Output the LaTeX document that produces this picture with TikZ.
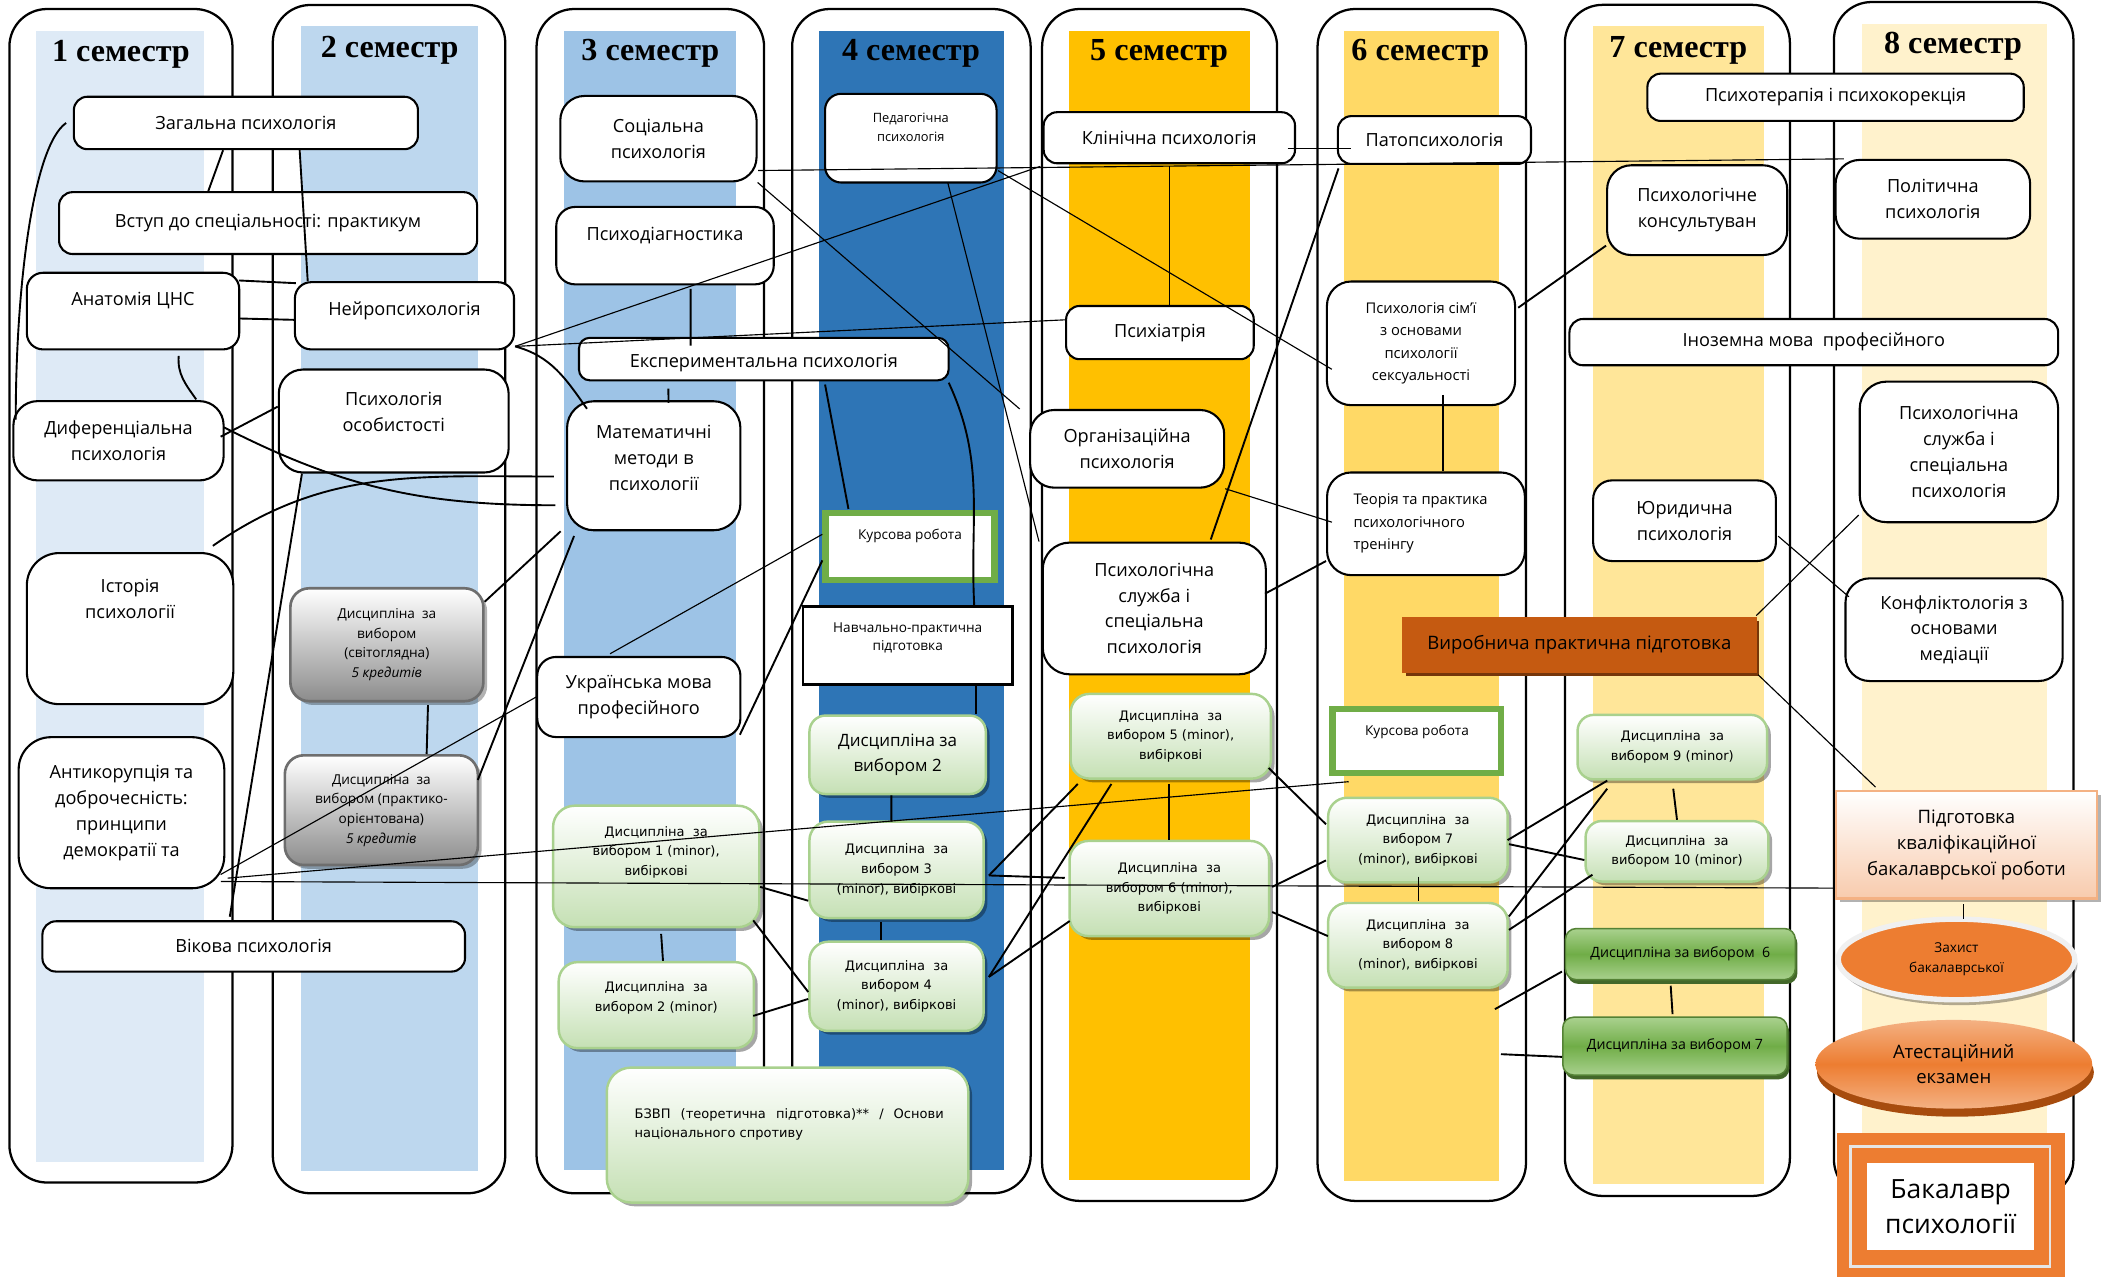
\documentclass[tikz,border=0pt]{standalone}
\usepackage{fontspec}
\setmainfont{Open Sans}
\newfontfamily\semfont{Liberation Serif}
\newfontfamily\minorfont{DejaVu Sans}
\usepackage{tikz}
\usetikzlibrary{shapes.geometric,shadows}
\usepackage{xcolor}
\definecolor{barA}{HTML}{DEEAF6}
\definecolor{barB}{HTML}{BDD7EE}
\definecolor{barC}{HTML}{9DC3E6}
\definecolor{barD}{HTML}{2E75B6}
\definecolor{barE}{HTML}{FFC000}
\definecolor{barF}{HTML}{FFD966}
\definecolor{barG}{HTML}{FFE699}
\definecolor{barH}{HTML}{FFF2CC}
\definecolor{minorfill}{HTML}{C5E0B4}
\definecolor{minordraw}{HTML}{A9D18E}
\definecolor{greydark}{HTML}{8C8C8C}
\definecolor{greyedge}{HTML}{6E6E6E}
\definecolor{grnmid}{HTML}{70AD47}
\definecolor{grnlight}{HTML}{A9D18E}
\definecolor{grnedge}{HTML}{548235}
\definecolor{orgdark}{HTML}{C55A11}
\definecolor{orgmid}{HTML}{ED7D31}
\definecolor{orglight}{HTML}{F4B183}
\definecolor{peach}{HTML}{F8CBAD}

\begin{document}
\begin{tikzpicture}[x=0.025cm,y=-0.025cm]
  \tikzstyle{sem frame}=[draw,line width=1.2pt,rounded corners=7mm,fill=white]
  \tikzstyle{sem head}=[anchor=base,inner sep=0pt,font=\semfont\bfseries\fontsize{17}{20}\selectfont]
  \tikzset{
box/.style={draw,line width=1.1pt,rounded corners=2.5mm,fill=white,align=center,inner sep=1pt,font=\fontsize{9.6}{13.7}\selectfont},
round box/.style={box,rounded corners=4.5mm},
small/.style={font=\fontsize{7.2}{10.4}\selectfont},
minor/.style={font=\minorfont\fontsize{6.9}{10.4}\selectfont},
txt/.style={align=center,inner sep=0pt,font=\fontsize{9.6}{13.7}\selectfont},
minor box/.style={box,minor,draw=minordraw,line width=1.3pt,top color=white,bottom color=minorfill,drop shadow={shadow xshift=0.7mm,shadow yshift=-0.7mm,fill=black,opacity=0.35}},
grey box/.style={box,small,rounded corners=3.5mm,draw=greyedge,line width=1.4pt,top color=white,bottom color=greydark,drop shadow={shadow xshift=0.7mm,shadow yshift=-0.7mm,fill=black,opacity=0.3}},
choice box/.style={box,rounded corners=2mm,draw=grnedge,line width=0.8pt,top color=grnlight,bottom color=grnlight,middle color=grnmid,font=\fontsize{7.5}{9}\selectfont,drop shadow={shadow xshift=0.4mm,shadow yshift=-0.8mm,fill=grnedge!80!black,opacity=1}},
course box/.style={draw=grnmid,line width=1.15mm,fill=white,inner sep=0pt},
practice box/.style={draw=orgdark,line width=0.4pt,top color=orgdark,middle color=orgmid,bottom color=orgdark,font=\fontsize{9.8}{12}\selectfont,drop shadow={shadow xshift=0.6mm,shadow yshift=-0.7mm,fill=orgdark!60!black,opacity=1}},
thesis box/.style={draw=orglight,line width=1.3pt,top color=white,bottom color=peach,align=center,font=\fontsize{9.8}{13.8}\selectfont,drop shadow={shadow xshift=0.7mm,shadow yshift=-0.7mm,fill=black,opacity=0.3}},
link/.style={line width=1pt},
thin link/.style={line width=0.6pt}
}
  \useasboundingbox (0,0) rectangle (1568,950);
  \clip (0,0) rectangle (1568,950);

  \draw[sem frame] (7,6.7) rectangle (173,880);
  \fill[barA] (27,22.8) rectangle (152,865);
  \node[sem head] (h1) at (90,45.5) {1 семестр};
  \draw[sem frame] (203,3.7) rectangle (376,888);
  \fill[barB] (224,19) rectangle (355.5,871.6);
  \node[sem head] (h2) at (290,42.5) {2 семестр};
  \draw[sem frame] (399.3,6.7) rectangle (568.6,888);
  \fill[barC] (419.6,22.8) rectangle (548,871);
  \node[sem head] (h3) at (484,45) {3 семестр};
  \draw[sem frame] (589.5,6.7) rectangle (767,888);
  \fill[barD] (609.8,22.8) rectangle (746.8,871);
  \node[sem head] (h4) at (678,45) {4 семестр};
  \draw[sem frame] (775.5,6.7) rectangle (950.4,893.7);
  \fill[barE] (795.5,22.8) rectangle (930,877.8);
  \node[sem head] (h5) at (862.6,45) {5 семестр};
  \draw[sem frame] (980.5,6.7) rectangle (1135.6,893.7);
  \fill[barF] (1000,22.8) rectangle (1115.5,878.5);
  \node[sem head] (h6) at (1057,45) {6 семестр};
  \draw[sem frame] (1164.6,3.6) rectangle (1332,890);
  \fill[barG] (1185.6,19.7) rectangle (1312.6,881);
  \node[sem head] (h7) at (1249,42.5) {7 семестр};
  \draw[sem frame] (1364.8,1.5) rectangle (1543,891);
  \fill[barH] (1385.6,18.2) rectangle (1523,880);
  \node[sem head] (h8) at (1453.4,40) {8 семестр};

  \node[box,minimum width=64mm,minimum height=9.75mm] (zag) at (183,91.5) {Загальна психологія};
  \node[box,minimum width=77.75mm,minimum height=11.5mm] (vstup) at (199.5,166) {Вступ до спеціальності: практикум};
  \node[box,rounded corners=3mm,minimum width=39.5mm,minimum height=14.25mm] (anat) at (99,231.5) {};
  \node[txt] (anat-t) at (99,224) {Анатомія ЦНС};
  \node[box,rounded corners=3mm,minimum width=40.75mm,minimum height=12.5mm] (neuro) at (301,235) {};
  \node[txt] (neuro-t) at (301,231) {Нейропсихологія};
  \node[round box,minimum width=39.1mm,minimum height=14.75mm] (dyf) at (88.2,328) {Диференціальна\\психологія};
  \node[round box,minimum width=42.75mm,minimum height=19.15mm] (osob) at (293,313.3) {};
  \node[txt] (osob-t) at (293,306.5) {Психологія\\особистості};
  \node[round box,rounded corners=6mm,minimum width=38.4mm,minimum height=28.1mm] (ist) at (96.8,467.8) {};
  \node[txt] (ist-t) at (96.8,445.5) {Історія\\психології};
  \node[round box,rounded corners=6mm,minimum width=38.25mm,minimum height=28.1mm] (antik) at (90.4,604.8) {Антикорупція та\\доброчесність:\\принципи\\демократії та};
  \node[box,minimum width=78.6mm,minimum height=9.35mm] (vikova) at (188.8,704.3) {Вікова психологія};
  \node[grey box,minimum width=35.9mm,minimum height=21mm] (svit) at (287.9,479.8) {Дисципліна~ за\\вибором\\(світоглядна)\\\textit{5 кредитів}};
  \node[grey box,minimum width=35.9mm,minimum height=20.4mm] (prakt) at (283.8,602.9) {Дисципліна~ за\\вибором (практико-\\орієнтована)\\\textit{5 кредитів}};

  \node[round box,minimum width=36.5mm,minimum height=15.9mm] (soc) at (490,103.2) {Соціальна\\психологія};
  \node[round box,rounded corners=3.5mm,minimum width=40.45mm,minimum height=14.4mm] (diag) at (494.9,182.8) {};
  \node[txt] (diag-t) at (494.9,175) {Психодіагностика};
  \node[box,rounded corners=2mm,minimum width=68.75mm,minimum height=7.9mm] (exper) at (568.4,267.2) {};
  \node[txt] (exper-t) at (568.4,270) {Експериментальна психологія};
  \node[round box,rounded corners=5mm,minimum width=32.25mm,minimum height=24mm] (math) at (486.5,346.6) {};
  \node[txt] (math-t) at (486.5,340.5) {Математичні\\методи в\\психології};
  \node[round box,rounded corners=3.5mm,minimum width=37.8mm,minimum height=14.9mm] (ukr) at (475.4,518.7) {Українська мова\\професійного};
  \node[minor box,rounded corners=4mm,minimum width=38.35mm,minimum height=22.6mm] (d1) at (488.3,644.8) {};
  \node[txt,minor] (d1-t) at (488.3,634.2) {Дисципліна~ за\\вибором 1 (minor),\\вибіркові};
  \node[minor box,rounded corners=3.5mm,minimum width=36.3mm,minimum height=16mm] (d2m) at (488.4,748) {};
  \node[txt,minor] (d2m-t) at (488.4,742.8) {Дисципліна~ за\\вибором 2 (minor)};
  \node[minor box,rounded corners=4.5mm,minimum width=67.25mm,minimum height=25.1mm] (bzvp) at (586.1,844.7) {};
  \node[txt,minor,align=left,anchor=west] (bzvp-t) at (472,836.7) {\makebox[57.5mm][s]{БЗВП (теоретична підготовка)** / Основи}\\національного спротиву};

  \node[box,rounded corners=3mm,minimum width=31.9mm,minimum height=16.5mm] (ped) at (677.8,102.8) {};
  \node[txt,font=\fontsize{6.8}{9.7}\selectfont] (ped-t) at (677.8,94.8) {Педагогічна\\психологія};
  \node[course box,minimum width=31.45mm,minimum height=12.4mm] (kurs4) at (677.2,406.6) {};
  \node[txt,small] (kurs4-t) at (677.2,399) {Курсова робота};
  \node[draw,line width=1.2pt,fill=white,minimum width=39mm,minimum height=14.5mm] (navch) at (675.5,480.4) {};
  \node[txt,font=\fontsize{7.2}{9.8}\selectfont] (navch-t) at (675.5,474.6) {Навчально-практична\\підготовка};
  \node[minor box,rounded corners=3mm,font=\fontsize{9}{13.2}\selectfont,minimum width=32.8mm,minimum height=14.6mm] (d2) at (668,561.7) {Дисципліна за\\вибором 2};
  \node[minor box,rounded corners=3.5mm,minimum width=32.4mm,minimum height=17.95mm] (d3) at (667.2,647.3) {Дисципліна~ за\\вибором 3\\(minor), вибіркові};
  \node[minor box,rounded corners=3.5mm,minimum width=32.4mm,minimum height=16.6mm] (d4) at (667.2,734) {Дисципліна~ за\\вибором 4\\(minor), вибіркові};

  \node[box,minimum width=46.75mm,minimum height=9.5mm] (klin) at (870.2,102.5) {Клінічна психологія};
  \node[box,minimum width=34.9mm,minimum height=9.9mm] (psyh) at (863.2,247.5) {Психіатрія};
  \node[round box,minimum width=36.1mm,minimum height=14.45mm] (org) at (838.8,334) {Організаційна\\психологія};
  \node[round box,rounded corners=5mm,minimum width=41.5mm,minimum height=24.5mm] (sluzh5) at (859,452.8) {Психологічна\\служба і\\спеціальна\\психологія};
  \node[minor box,rounded corners=3.5mm,minimum width=37.25mm,minimum height=15.75mm] (d5) at (871.2,547.9) {Дисципліна~ за\\вибором 5 (minor),\\вибіркові};
  \node[minor box,rounded corners=3.5mm,minimum width=37.1mm,minimum height=17.7mm] (d6) at (870.2,661.2) {Дисципліна~ за\\вибором 6 (minor),\\вибіркові};

  \node[box,minimum width=35.9mm,minimum height=8.9mm] (pato) at (1067.5,104.2) {Патопсихологія};
  \node[round box,font=\fontsize{7.8}{11.8}\selectfont,minimum width=35mm,minimum height=23mm] (sim) at (1057.5,255.5) {Психологія сім’ї\\з основами\\психології\\сексуальності};
  \node[round box,minimum width=36.8mm,minimum height=19.1mm] (trening) at (1061.2,389.8) {};
  \node[txt,font=\fontsize{7.8}{11.8}\selectfont,align=left,anchor=west] (trening-t) at (1007,389.5) {Теорія та практика\\психологічного\\тренінгу};
  \node[practice box,minimum width=65.7mm,minimum height=10.2mm] (vyrob) at (1175.3,479.6) {Виробнича практична підготовка};
  \node[course box,minimum width=31.4mm,minimum height=11.9mm] (kurs6) at (1054.5,551.6) {};
  \node[txt,small] (kurs6-t) at (1054.5,545) {Курсова робота};
  \node[minor box,rounded corners=3.5mm,minimum width=33.4mm,minimum height=15.75mm] (d7) at (1055.2,625.2) {Дисципліна~ за\\вибором 7\\(minor), вибіркові};
  \node[minor box,rounded corners=3.5mm,minimum width=33.4mm,minimum height=15.75mm] (d8) at (1055.2,703.5) {Дисципліна~ за\\вибором 8\\(minor), вибіркові};

  \node[box,minimum width=70mm,minimum height=8.8mm] (psyter) at (1366,72.4) {Психотерапія і психокорекція};
  \node[round box,minimum width=33.5mm,minimum height=16.7mm] (kons) at (1263,156.4) {Психологічне\\консультуван};
  \node[box,minimum width=90.9mm,minimum height=8.6mm] (inoz) at (1349.8,254.6) {Іноземна мова\ \ професійного};
  \node[round box,rounded corners=3.5mm,minimum width=34mm,minimum height=15mm] (yur) at (1253.6,387.5) {Юридична\\психологія};
  \node[minor box,rounded corners=3mm,minimum width=35.25mm,minimum height=12mm] (d9) at (1244.5,556) {Дисципліна~ за\\вибором 9 (minor)};
  \node[minor box,rounded corners=3mm,minimum width=34mm,minimum height=11.25mm] (d10) at (1248,633.5) {Дисципліна~ за\\вибором 10 (minor)};
  \node[choice box,minimum width=42.75mm,minimum height=9.5mm] (dv6) at (1250.5,710) {Дисципліна за вибором\ \ 6};
  \node[choice box,minimum width=41.75mm,minimum height=10.75mm] (dv7) at (1246.5,778.5) {Дисципліна за вибором 7};
  \coordinate (f6) at (1112.5,751);
  \coordinate (f7) at (1117,784.5);

  \node[round box,minimum width=36.2mm,minimum height=14.65mm] (polit) at (1438.4,148.3) {Політична\\психологія};
  \node[round box,rounded corners=5mm,minimum width=36.9mm,minimum height=26.15mm] (sluzh8) at (1457.8,336.3) {Психологічна\\служба і\\спеціальна\\психологія};
  \node[round box,minimum width=40.4mm,minimum height=19.1mm] (konf) at (1454.2,468.6) {Конфліктологія з\\основами\\медіації};
  \node[thesis box,minimum width=48.55mm,minimum height=20mm] (pidg) at (1463.4,628.5) {Підготовка\\кваліфікаційної\\бакалаврської роботи};
  \node[ellipse,fill=orgmid,draw=white!94!black,line width=1mm,minimum width=44mm,minimum height=15mm,align=center,inner sep=0pt,small,drop shadow={shadow xshift=0.5mm,shadow yshift=-1mm,fill=black,opacity=0.3}] (zahyst) at (1456,714) {Захист\\бакалаврської};
  \node[ellipse,top color=orglight,bottom color=orglight,middle color=orgmid,minimum width=51.5mm,minimum height=16.5mm,align=center,inner sep=0pt,font=\fontsize{9.8}{13.2}\selectfont,drop shadow={shadow xshift=0.3mm,shadow yshift=-1.5mm,fill=orgdark!85!black,opacity=1}] (atest) at (1454,792) {Атестаційний\\екзамен};
  \node[fill=orgmid,minimum width=42.35mm,minimum height=29.15mm,inner sep=0pt] (bakframe) at (1452,901.7) {};
  \draw[white!80!gray,line width=1.3pt] (1377.2,853.3) rectangle (1525.5,942.6);
  \node[fill=white,minimum width=31mm,minimum height=16.25mm,align=center,inner sep=0pt,font=\fontsize{14}{18.4}\selectfont] (bak) at (1451.6,897.7) {Бакалавр\\психології};

  \draw[link] ([shift={(-17,0)}]zag.south) -- ([shift={(-44.5,0)}]vstup.north);
  \draw[link] ([shift={(40,0)}]zag.south) -- ([shift={(-72,0)}]neuro.north);
  \draw[link] ([shift={(-5,0)}]zag.west) to[out=215,in=90,out looseness=0.35,in looseness=1.1] ([shift={(2.5,14.5)}]dyf.north west);
  \draw[link] ([shift={(-1,6.5)}]anat.north east) -- ([shift={(1.5,1.5)}]neuro.north west);
  \draw[link] ([shift={(-1,5.5)}]anat.east) -- ([shift={(0,3)}]neuro.west);
  \draw[link] ([shift={(34,4)}]anat.south) to[out=-95,in=125] ([shift={(57.8,-0.5)}]dyf.north);
  \draw[link] ([shift={(-3,-3)}]dyf.east) -- ([shift={(0,-10.7)}]osob.west);
  \draw[link] ([shift={(-0.5,-10)}]dyf.east) to[out=-27,in=180] ([shift={(-8,29.4)}]math.west);
  \draw[link] ([shift={(-16,-4.6)}]ist.north east) to[out=35,in=180] ([shift={(-9,8)}]math.west);
  \draw[link] ([shift={(0,-3)}]neuro.south east) to[out=-15,in=125] ([shift={(15.6,6.4)}]math.north west);
  \draw[thin link] ([shift={(0,-3)}]neuro.south east) -- ([shift={(-1.7,1.5)}]klin.south west);
  \draw[thin link] ([shift={(0,-3)}]neuro.south east) -- ([shift={(0,-9.5)}]psyh.west);
  \draw[link] ([shift={(18,0)}]osob.south west) -- ([shift={(-17.8,-2.6)}]vikova.north);
  \draw[link] ([shift={(-4,0)}]math.south west) -- ([shift={(0,11)}]svit.north east);
  \draw[link] ([shift={(6,3.5)}]math.south west) -- ([shift={(-1,-22.5)}]prakt.east);
  \draw[link] ([shift={(30.6,2)}]svit.south) -- ([shift={(33.7,0)}]prakt.north);
  \draw[thin link] ([shift={(-3.5,-11)}]antik.south east) -- (ukr.west);
  \draw[thin link] ([shift={(1.7,48.7)}]antik.east) -- ([shift={(14.3,4)}]kurs6.south west);
  \draw[thin link] ([shift={(-3.3,51.2)}]antik.east) -- ([shift={(0,-8.5)}]pidg.south west);
  \draw[thin link] ([shift={(-21.4,-1.6)}]ukr.north) -- ([shift={(0,-9)}]kurs4.west);
  \draw[link] ([shift={(-1.2,-2.5)}]ukr.south east) -- ([shift={(0,10.4)}]kurs4.west);
  \draw[thin link] ([shift={(0.4,23.7)}]soc.east) -- ([shift={(7,0)}]polit.north west);
  \draw[thin link] (soc.south east) -- ([shift={(-7,0)}]org.north west);
  \draw[thin link] ([shift={(27.5,-0.7)}]ped.south) -- ([shift={(-2,0)}]sluzh5.north west);
  \draw[thin link] ([shift={(0.4,24.2)}]ped.east) -- ([shift={(4.4,19.3)}]sim.west);
  \draw[link] ([shift={(19,2.5)}]diag.south) -- ([shift={(-54.4,6.6)}]exper.north);
  \draw[link] ([shift={(-71,5.4)}]exper.south) -- ([shift={(11,2)}]math.north);
  \draw[link] ([shift={(45.6,2.4)}]exper.south) -- ([shift={(19.4,-0.8)}]kurs4.north west);
  \draw[link] ([shift={(-0.7,1)}]exper.south east) to[out=-65,in=93] ([shift={(49.5,0)}]navch.north);
  \draw[link] ([shift={(50.8,0)}]navch.south) -- ([shift={(58.3,0)}]d2.north);
  \draw[link] ([shift={(-4.7,0)}]d2.south) -- ([shift={(-3.9,1)}]d3.north);
  \draw[link] ([shift={(-11.8,2.3)}]d3.south) -- ([shift={(-11.8,0)}]d4.north);
  \draw[link] ([shift={(3.7,4)}]d1.south) -- ([shift={(5,0)}]d2m.north);
  \draw[link] ([shift={(-0.3,15.2)}]d1.east) -- ([shift={(0,23)}]d3.west);
  \draw[link] ([shift={(-5.4,-6)}]d1.south east) -- ([shift={(0,4.2)}]d4.west);
  \draw[link] ([shift={(-1.4,8)}]d2m.east) -- ([shift={(0,9.4)}]d4.west);
  \draw[link] ([shift={(3,4.2)}]d3.east) -- ([shift={(6.3,3.1)}]d5.south west);
  \draw[link] ([shift={(3,4.2)}]d3.east) -- ([shift={(-2.7,-7.9)}]d6.west);
  \draw[link] ([shift={(3,-7)}]d4.east) -- ([shift={(31.3,3.1)}]d5.south west);
  \draw[link] ([shift={(3,-7)}]d4.east) -- ([shift={(1,24.2)}]d6.west);
  \draw[link] ([shift={(-1.4,3.1)}]d5.south) -- ([shift={(-0.4,0)}]d6.north);
  \draw[link] ([shift={(-2.5,23.6)}]d5.east) -- ([shift={(-0.7,-11.8)}]d7.west);
  \draw[link] ([shift={(1.4,-1.2)}]d6.east) -- ([shift={(-0.7,15.1)}]d7.west);
  \draw[link] ([shift={(1.4,17.5)}]d6.east) -- ([shift={(0.7,-6.9)}]d8.west);
  \draw[link] ([shift={(0.4,-5.2)}]d7.south) -- ([shift={(0.4,-0.4)}]d8.north);
  \draw[link] ([shift={(-1,0)}]d7.east) -- ([shift={(23,0)}]d9.south west);
  \draw[link] ([shift={(0,3)}]d7.east) -- ([shift={(0,6.5)}]d10.west);
  \draw[link] ([shift={(0,-21.5)}]d8.east) -- ([shift={(23,6)}]d9.south west);
  \draw[link] ([shift={(0,-11.5)}]d8.east) -- ([shift={(6,-6)}]d10.south west);
  \draw[link] (f6) -- ([shift={(-2,13)}]dv6.west);
  \draw[link] (f7) -- ([shift={(0,8)}]dv7.west);
  \draw[link] ([shift={(0.7,6)}]d9.south) -- (d10.north);
  \draw[link] ([shift={(-7.2,4)}]dv6.south) -- ([shift={(-1.8,-1.7)}]dv7.north);
  \draw[thin link] ([shift={(-6.3,8.3)}]klin.east) -- ([shift={(10.2,6.6)}]pato.west);
  \draw[thin link] ([shift={(0.1,1.5)}]klin.south) -- ([shift={(7.1,1.3)}]psyh.north);
  \draw[link] ([shift={(1.2,2.5)}]pato.south west) -- ([shift={(42,-1.5)}]sluzh5.north);
  \draw[link] ([shift={(16.5,-8.5)}]sim.south) -- ([shift={(12.8,0)}]trening.north);
  \draw[link] ([shift={(1.5,-26.5)}]sim.east) -- ([shift={(0,-7.8)}]kons.south west);
  \draw[thin link] (org.south east) -- ([shift={(4.4,-1.2)}]trening.west);
  \draw[link] ([shift={(-1.4,-11)}]sluzh5.east) -- ([shift={(0,27.7)}]trening.west);
  \draw[thin link] ([shift={(0.9,11.5)}]yur.east) -- ([shift={(3.3,14.5)}]konf.north west);
  \draw[thin link] ([shift={(0,-0.8)}]vyrob.north east) -- ([shift={(0,-6.1)}]sluzh8.south west);
  \draw[thin link] ([shift={(1.3,1.8)}]vyrob.south east) -- ([shift={(30.4,-1.8)}]pidg.north west);
  \draw[thin link] ([shift={(-2,3.5)}]pidg.south) -- ([shift={(5.4,1.7)}]zahyst.north);
\end{tikzpicture}
\end{document}
